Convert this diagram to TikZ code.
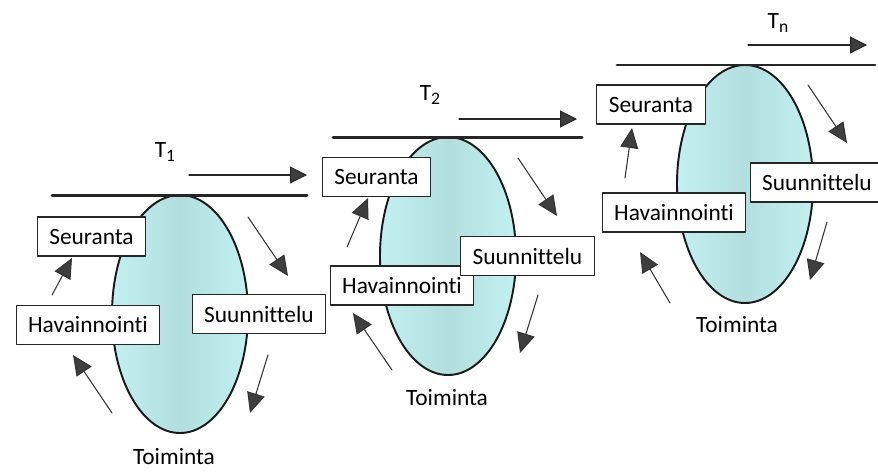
\documentclass[tikz,border=0pt]{standalone}
\usepackage{fontspec}
\setmainfont{Carlito}[Ligatures={NoCommon,NoContextual},RawFeature={-liga;-dlig;-calt}]
\usetikzlibrary{arrows.meta}
\definecolor{rimcyan}{RGB}{194,240,240}
\definecolor{midcyan}{RGB}{178,222,222}
\definecolor{inkgray}{RGB}{62,62,62}
\newcommand{\tlabel}[1]{T\raisebox{-0.35ex}{\fontsize{10}{12}\selectfont #1}}
\tikzset{
  stage/.style={draw=black!85,fill=white,line width=0.6pt,inner xsep=0.24cm,minimum height=0.78cm},
  oval/.style={left color=rimcyan,right color=rimcyan,middle color=midcyan,draw=black!90,line width=1.1pt},
  timeline/.style={draw=black!85,line width=1.7pt},
  timearrow/.style={draw=black!85,line width=0.6pt,-{Triangle[length=0.34cm,width=0.34cm,fill=inkgray]}},
  turn/.style={draw=black!80,line width=0.6pt,-{Triangle[length=0.4cm,width=0.36cm,fill=inkgray]}}
}
\begin{document}
\begin{tikzpicture}[x=0.02cm,y=-0.02cm,line cap=round,line join=round,font=\fontsize{13.3}{16}\selectfont]
    \useasboundingbox (0,0) rectangle (878,471);
    % cycle T1
    \begin{scope}[shift={(180,314)}]
      \shadedraw[oval] (0,0) ellipse [x radius=68,y radius=119];
      \draw[timeline] (-128,-119)--(127,-119);
      \draw[timearrow] (9,-139)--(127,-139);
      \node (t1) at (-15,-162) {\tlabel{1}};
      \node[stage] (seu1) at (-88.5,-77.5) {Seuranta};
      \node[stage] (hav1) at (-92,11) {Havainnointi};
      \node[stage] (suu1) at (79,0) {Suunnittelu};
      \node (toi1) at (-6,143) {Toiminta};
      \foreach \x/\y/\xx/\yy in {-128/-19/-108/-56,68/-97/108/-38,88/41/70/99,-68/99/-107/41}{\draw[turn] (\x,\y)--(\xx,\yy);}
    \end{scope}
    % cycle T2
    \begin{scope}[shift={(448,256)}]
      \shadedraw[oval] (0,0) ellipse [x radius=68,y radius=119];
      \draw[timeline] (-115,-119)--(134,-119);
      \draw[timearrow] (11,-137)--(129,-137);
      \node (t2) at (-18,-161) {\tlabel{2}};
      \node[stage] (seu2) at (-71.5,-79) {Seuranta};
      \node[stage] (hav2) at (-46,29.5) {Havainnointi};
      \node[stage] (suu2) at (79.5,0) {Suunnittelu};
      \node (toi2) at (-1,142) {Toiminta};
      \foreach \x/\y/\xx/\yy in {-101/-9/-80/-58,70/-98/109/-40,90/39/72/97,-56/114/-95/57}{\draw[turn] (\x,\y)--(\xx,\yy);}
    \end{scope}
    % cycle Tn
    \begin{scope}[shift={(745,184)}]
      \shadedraw[oval] (0,0) ellipse [x radius=68,y radius=119];
      \draw[timeline] (-128,-119)--(130,-119);
      \draw[timearrow] (3,-139)--(122,-139);
      \node (tn) at (33,-161) {\tlabel{n}};
      \node[stage] (seu3) at (-94,-79.5) {Seuranta};
      \node[stage] (suu3) at (72,-1.5) {Suunnittelu};
      \node[stage] (hav3) at (-71,28.5) {Havainnointi};
      \node (toi3) at (-8,141) {Toiminta};
      \foreach \x/\y/\xx/\yy in {-120/-6/-113/-56,63/-99/102/-41,82/38/65/96,-75/119/-105/68}{\draw[turn] (\x,\y)--(\xx,\yy);}
    \end{scope}
  \end{tikzpicture}
\end{document}
